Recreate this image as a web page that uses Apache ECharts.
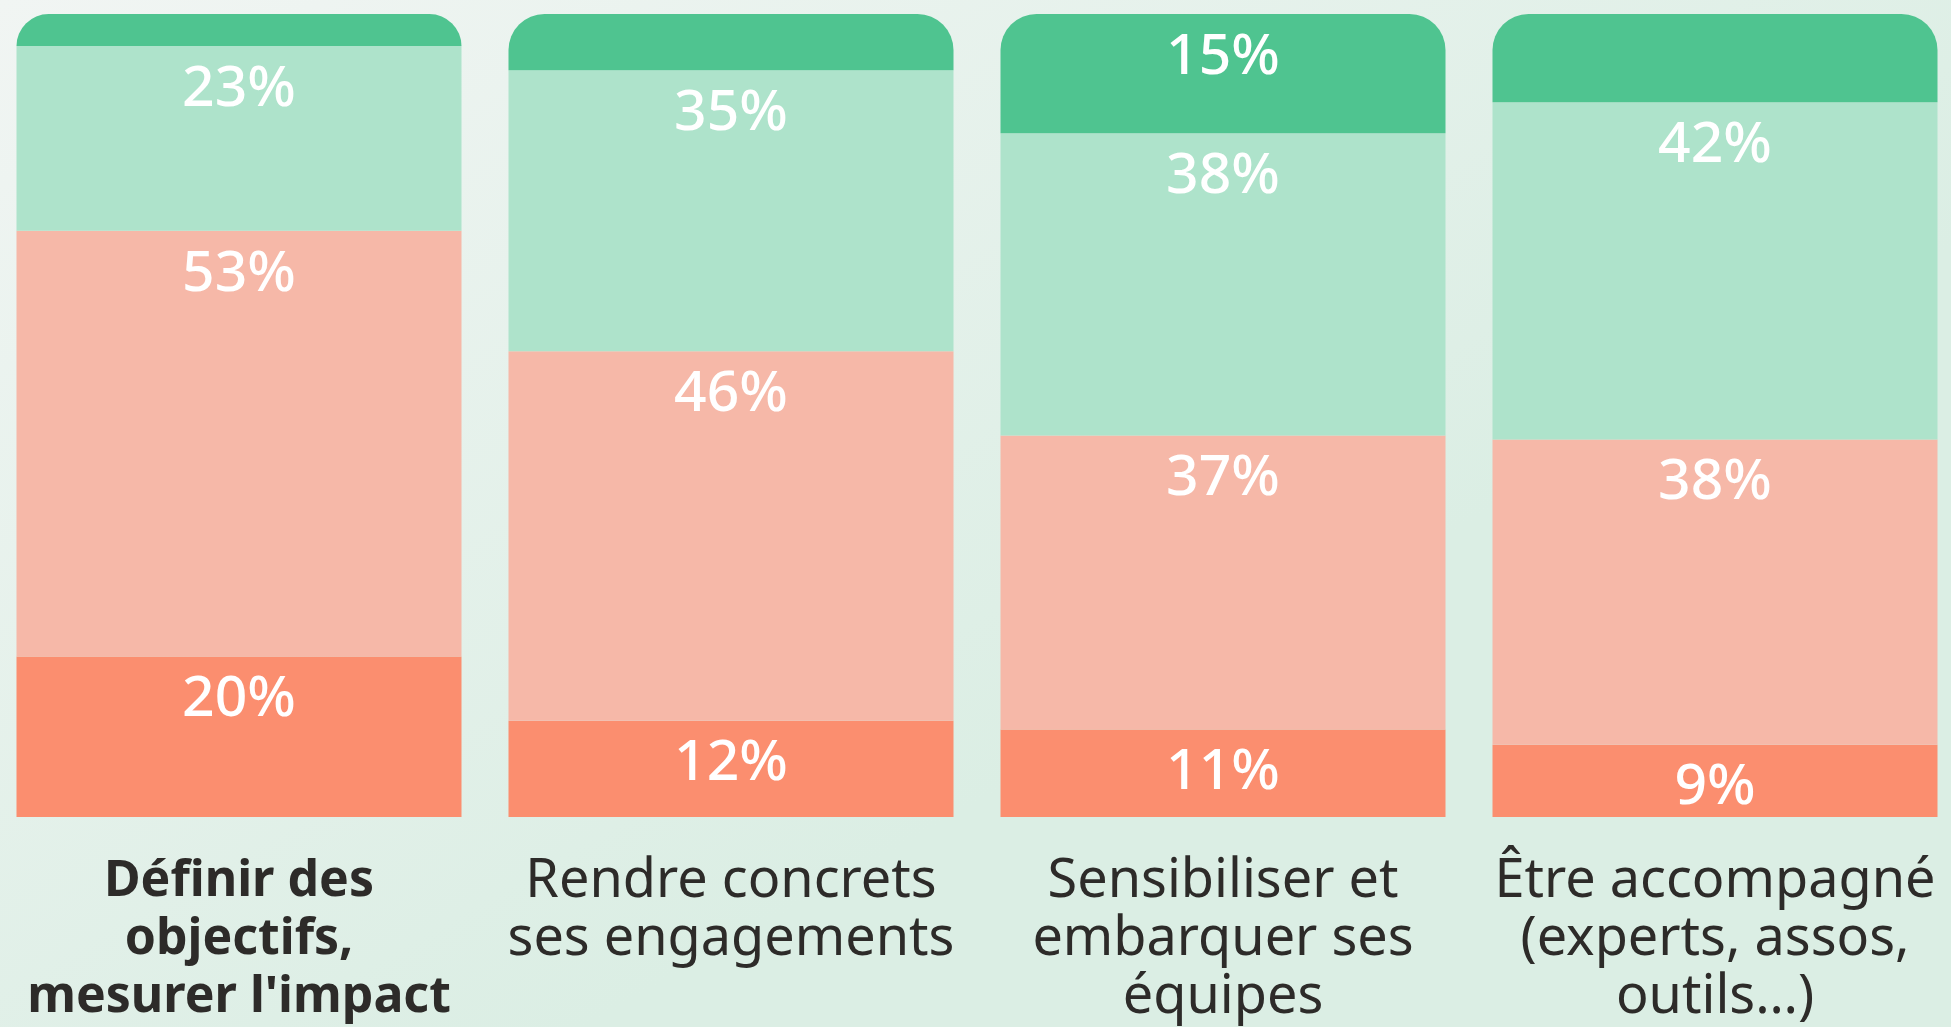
<!DOCTYPE html>
<html>
<head>
<meta charset="utf-8">
<script src="https://cdn.jsdelivr.net/npm/echarts@6/dist/echarts.min.js"></script>
<style>
  html, body { margin: 0; padding: 0; }
  #chart { width: 1951px; height: 1027px; }
</style>
</head>
<body>
<div id="chart"></div>
<script>
const categories = [
  'Définir des\nobjectifs,\nmesurer l\'impact',
  'Rendre concrets\nses engagements',
  'Sensibiliser et\nembarquer ses\néquipes',
  'Être accompagné\n(experts, assos,\noutils…)'
]
// stacked from bottom to top
const darkRed = [20, 12, 11, 9]
const lightRed = [53, 46, 37, 38]
const lightGreen = [23, 35, 38, 42]
const darkGreen = [4, 7, 15, 11]
const darkGreenLabelled = [false, false, true, false]

const totals = categories.map((c, i) => darkRed[i] + lightRed[i] + lightGreen[i] + darkGreen[i])

function toItems (arr, shown) {
  return arr.map((v, i) => {
    const item = { value: v * 100 / totals[i], raw: v }
    if (shown && !shown[i]) item.label = { show: false }
    return item
  })
}

const labelStyle = {
  show: true,
  position: 'insideTop',
  distance: 15,
  color: '#ffffff',
  fontFamily: 'Noto Sans',
  fontWeight: 500,
  fontSize: 57,
  formatter: p => p.data.raw + '%'
}

const chart = echarts.init(document.getElementById('chart'))
chart.setOption({
  backgroundColor: new echarts.graphic.LinearGradient(0, 0, 0.3, 1, [
    { offset: 0, color: '#f1f5f3' },
    { offset: 1, color: '#dbeee4' }
  ]),
  animation: false,
  grid: { left: -7, width: 1968, top: 14, bottom: 210, outerBoundsMode: 'none', containLabel: false },
  xAxis: {
    type: 'category',
    data: categories.map((c, i) => i === 0
      ? { value: c, textStyle: { fontWeight: 'bold', fontSize: 50 } }
      : c),
    axisLine: { show: false },
    axisTick: { show: false },
    axisLabel: {
      interval: 0,
      margin: 36,
      color: '#2d2b29',
      fontFamily: 'Noto Sans',
      fontSize: 54,
      lineHeight: 58,
      align: 'center'
    }
  },
  yAxis: {
    type: 'value',
    min: 0,
    max: 100,
    show: false,
    splitLine: { show: false }
  },
  series: [
    {
      name: 'darkRed', type: 'bar', stack: 'a', barWidth: 445,
      itemStyle: { color: '#fb8e6f' }, label: labelStyle,
      data: toItems(darkRed)
    },
    {
      name: 'lightRed', type: 'bar', stack: 'a', barWidth: 445,
      itemStyle: { color: '#f6b8a8' }, label: labelStyle,
      data: toItems(lightRed)
    },
    {
      name: 'lightGreen', type: 'bar', stack: 'a', barWidth: 445,
      itemStyle: { color: '#aee3cb' }, label: labelStyle,
      data: toItems(lightGreen)
    },
    {
      name: 'darkGreen', type: 'bar', stack: 'a', barWidth: 445,
      itemStyle: { color: '#4fc490', borderRadius: [36, 36, 0, 0] }, label: labelStyle,
      data: toItems(darkGreen, darkGreenLabelled)
    }
  ]
})
</script>
</body>
</html>
